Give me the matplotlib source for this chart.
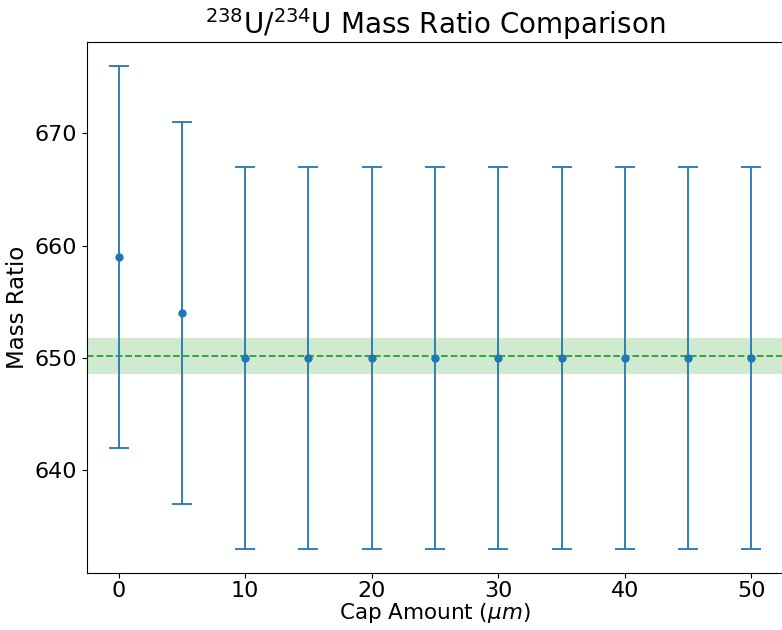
import matplotlib
matplotlib.use("Agg")
import matplotlib.pyplot as plt
import numpy as np

cap_amount = [0, 5, 10, 15, 20, 25, 30, 35, 40, 45, 50]
mass_ratio = [659, 654, 650, 650, 650, 650, 650, 650, 650, 650, 650]
ratio_err = [17, 17, 17, 17, 17, 17, 17, 17, 17, 17, 17]
ref_ratio = 650.2
ref_err = 1.6

fig = plt.figure(figsize=(7.82, 6.3), dpi=100)
ax = fig.add_axes([0.1113, 0.0905, 0.890, 0.843])

ax.axhspan(ref_ratio - ref_err, ref_ratio + ref_err, color='tab:green', alpha=0.22, lw=0)
ax.axhline(ref_ratio, color='tab:green', ls='--', lw=1.3)
ax.errorbar(cap_amount, mass_ratio, yerr=ratio_err, fmt='o', color='tab:blue',
            capsize=7.5, ms=5, elinewidth=1.3, capthick=1.3)

ax.set_xlim(-2.5, 52.5)
ax.set_ylim(630.85, 678.15)
ax.set_yticks([640, 650, 660, 670])
ax.tick_params(labelsize=16)
ax.tick_params(axis='x', pad=2.5)
ax.set_xlabel(r"Cap Amount ($\mu m$)", fontsize=15.5, labelpad=0)
ax.set_ylabel("Mass Ratio", fontsize=16.5)
ax.set_title(r"$^{238}$U/$^{234}$U Mass Ratio Comparison", fontsize=20)

fig.savefig("out.png", dpi=100)
